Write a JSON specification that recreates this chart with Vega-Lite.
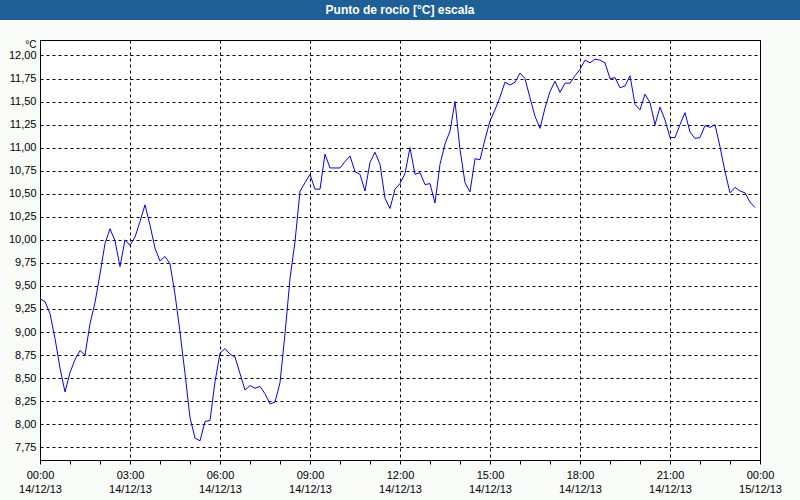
{
  "$schema": "https://vega.github.io/schema/vega-lite/v6.json",
  "background": "#f8fbf8",
  "padding": {"left": 0, "top": 0, "right": 0, "bottom": 4},
  "spacing": 20,
  "center": true,
  "bounds": "flush",
  "config": {
    "font": "Liberation Sans",
    "axis": {"labelFont": "Liberation Sans", "labelFontSize": 11, "labelColor": "#000000", "gridColor": "#000000", "gridDash": [3, 3], "gridWidth": 1, "domain": false, "titleFont": "Liberation Sans"}
  },
  "vconcat": [
    {
      "width": 800,
      "height": 20,
      "view": {"fill": "#1e6096", "stroke": null},
      "data": {"values": [{"titulo": "Punto de rocío [°C] escala"}]},
      "mark": {"type": "text", "color": "#ffffff", "font": "Liberation Sans", "fontSize": 12, "fontWeight": "bold", "align": "center", "baseline": "middle"},
      "encoding": {"text": {"field": "titulo"}}
    },
    {
      "width": 720,
      "height": 420,
      "view": {"fill": "#ffffff", "stroke": "#000000", "strokeWidth": 1},
      "data": {"values": [
        {"min":0,"v":9.36},{"min":10,"v":9.33},{"min":20,"v":9.20},{"min":30,"v":8.93},{"min":40,"v":8.61},{"min":50,"v":8.35},
        {"min":60,"v":8.56},{"min":70,"v":8.70},{"min":80,"v":8.80},{"min":90,"v":8.75},{"min":100,"v":9.09},{"min":110,"v":9.32},
        {"min":120,"v":9.63},{"min":130,"v":9.96},{"min":140,"v":10.12},{"min":150,"v":9.99},{"min":160,"v":9.71},{"min":170,"v":10.00},
        {"min":180,"v":9.94},{"min":190,"v":10.03},{"min":200,"v":10.20},{"min":210,"v":10.38},{"min":220,"v":10.16},{"min":230,"v":9.91},
        {"min":240,"v":9.77},{"min":250,"v":9.82},{"min":260,"v":9.74},{"min":270,"v":9.41},{"min":280,"v":9.00},{"min":290,"v":8.55},
        {"min":300,"v":8.07},{"min":310,"v":7.85},{"min":320,"v":7.82},{"min":330,"v":8.03},{"min":340,"v":8.04},{"min":350,"v":8.46},
        {"min":360,"v":8.77},{"min":370,"v":8.82},{"min":380,"v":8.76},{"min":390,"v":8.73},{"min":400,"v":8.55},{"min":410,"v":8.37},
        {"min":420,"v":8.42},{"min":430,"v":8.39},{"min":440,"v":8.41},{"min":450,"v":8.33},{"min":460,"v":8.22},{"min":470,"v":8.24},
        {"min":480,"v":8.45},{"min":490,"v":8.98},{"min":500,"v":9.58},{"min":510,"v":9.98},{"min":520,"v":10.53},{"min":530,"v":10.62},
        {"min":540,"v":10.71},{"min":550,"v":10.55},{"min":560,"v":10.55},{"min":570,"v":10.93},{"min":580,"v":10.78},{"min":590,"v":10.78},
        {"min":600,"v":10.78},{"min":610,"v":10.85},{"min":620,"v":10.91},{"min":630,"v":10.74},{"min":640,"v":10.71},{"min":650,"v":10.53},
        {"min":660,"v":10.84},{"min":670,"v":10.95},{"min":680,"v":10.82},{"min":690,"v":10.45},{"min":700,"v":10.34},{"min":710,"v":10.55},
        {"min":720,"v":10.61},{"min":730,"v":10.72},{"min":740,"v":11.00},{"min":750,"v":10.71},{"min":760,"v":10.73},{"min":770,"v":10.60},
        {"min":780,"v":10.61},{"min":790,"v":10.40},{"min":800,"v":10.82},{"min":810,"v":11.04},{"min":820,"v":11.18},{"min":830,"v":11.50},
        {"min":840,"v":10.98},{"min":850,"v":10.62},{"min":860,"v":10.52},{"min":870,"v":10.88},{"min":880,"v":10.87},{"min":890,"v":11.09},
        {"min":900,"v":11.29},{"min":910,"v":11.41},{"min":920,"v":11.55},{"min":930,"v":11.71},{"min":940,"v":11.68},{"min":950,"v":11.71},
        {"min":960,"v":11.81},{"min":970,"v":11.75},{"min":980,"v":11.54},{"min":990,"v":11.34},{"min":1000,"v":11.21},{"min":1010,"v":11.43},
        {"min":1020,"v":11.61},{"min":1030,"v":11.72},{"min":1040,"v":11.60},{"min":1050,"v":11.70},{"min":1060,"v":11.70},{"min":1070,"v":11.78},
        {"min":1080,"v":11.85},{"min":1090,"v":11.95},{"min":1100,"v":11.92},{"min":1110,"v":11.96},{"min":1120,"v":11.95},{"min":1130,"v":11.92},
        {"min":1140,"v":11.75},{"min":1150,"v":11.76},{"min":1160,"v":11.65},{"min":1170,"v":11.67},{"min":1180,"v":11.78},{"min":1190,"v":11.47},
        {"min":1200,"v":11.41},{"min":1210,"v":11.58},{"min":1220,"v":11.49},{"min":1230,"v":11.25},{"min":1240,"v":11.44},{"min":1250,"v":11.30},
        {"min":1260,"v":11.11},{"min":1270,"v":11.11},{"min":1280,"v":11.25},{"min":1290,"v":11.38},{"min":1300,"v":11.17},{"min":1310,"v":11.10},
        {"min":1320,"v":11.11},{"min":1330,"v":11.24},{"min":1340,"v":11.22},{"min":1350,"v":11.25},{"min":1360,"v":11.01},{"min":1370,"v":10.74},
        {"min":1380,"v":10.51},{"min":1390,"v":10.57},{"min":1400,"v":10.53},{"min":1410,"v":10.51},{"min":1420,"v":10.41},{"min":1430,"v":10.35}
      ]},
      "encoding": {
        "y": {
          "field": "v",
          "type": "quantitative",
          "scale": {"domain": [7.612, 12.168], "zero": false, "nice": false},
          "axis": {
            "values": [7.75, 8, 8.25, 8.5, 8.75, 9, 9.25, 9.5, 9.75, 10, 10.25, 10.5, 10.75, 11, 11.25, 11.5, 11.75, 12],
            "labelExpr": "replace(format(datum.value, '.2f'), '.', ',')",
            "ticks": false,
            "tickSize": 0,
            "labelPadding": 4,
            "grid": true,
            "title": "°C",
            "titleAngle": 0,
            "titleX": -4,
            "titleY": 4.5,
            "titleAlign": "right",
            "titleBaseline": "middle",
            "titleFontWeight": "normal",
            "titleFontSize": 10,
            "titleColor": "#000000"
          }
        }
      },
      "layer": [
        {
          "mark": {"type": "line", "color": "#0000ff", "strokeWidth": 1, "clip": true},
          "encoding": {
            "x": {
              "field": "min",
              "type": "quantitative",
              "scale": {"domain": [0, 1440], "nice": false, "zero": false},
              "axis": {
                "orient": "bottom",
                "title": null,
                "values": [0, 180, 360, 540, 720, 900, 1080, 1260, 1440],
                "tickSize": 4,
                "tickColor": "#000000",
                "grid": true,
                "labelExpr": "[format(floor(datum.value / 60) % 24, '02d') + ':00', datum.value < 1440 ? '14/12/13' : '15/12/13']",
                "labelPadding": 5,
                "labelBaseline": "top",
                "labelLineHeight": 14,
                "labelOverlap": false,
                "labelBound": false,
                "labelFlush": false
              }
            }
          }
        },
        {
          "mark": {"type": "line", "opacity": 0, "clip": true},
          "encoding": {
            "x": {
              "field": "min",
              "type": "quantitative",
              "axis": {
                "orient": "bottom",
                "title": null,
                "values": [60, 120, 240, 300, 420, 480, 600, 660, 780, 840, 960, 1020, 1140, 1200, 1320, 1380],
                "tickSize": 4,
                "tickColor": "#000000",
                "grid": false,
                "labels": false
              }
            }
          }
        }
      ],
      "resolve": {"axis": {"x": "independent"}}
    }
  ]
}
